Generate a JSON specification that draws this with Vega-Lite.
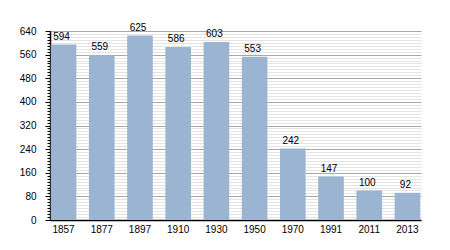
{
  "$schema": "https://vega.github.io/schema/vega-lite/v6.json",
  "width": 371,
  "height": 189,
  "autosize": "none",
  "padding": {"left": 50, "top": 31, "right": 29, "bottom": 30},
  "background": "white",
  "data": {"values": [
    {"year": "1857", "pop": 594},
    {"year": "1877", "pop": 559},
    {"year": "1897", "pop": 625},
    {"year": "1910", "pop": 586},
    {"year": "1930", "pop": 603},
    {"year": "1950", "pop": 553},
    {"year": "1970", "pop": 242},
    {"year": "1991", "pop": 147},
    {"year": "2011", "pop": 100},
    {"year": "2013", "pop": 92}
  ]},
  "config": {
    "font": "Liberation Sans",
    "view": {"stroke": null},
    "axis": {"labelFont": "Liberation Sans", "labelFontSize": 10, "labelColor": "#000"}
  },
  "encoding": {
    "x": {"field": "year", "type": "ordinal", "scale": {"paddingInner": 0.33, "paddingOuter": 0.02},
      "axis": {"title": null, "labelAngle": 0, "ticks": false, "domainColor": "#000", "domainWidth": 1.5, "labelPadding": 4}}
  },
  "layer": [
    {
      "mark": {"type": "bar", "opacity": 0},
      "encoding": {
        "y": {"field": "pop", "type": "quantitative", "scale": {"domain": [0, 640], "nice": false},
          "axis": {"title": null, "orient": "left", "values": [0,10,20,30,40,50,60,70,80,90,100,110,120,130,140,150,160,170,180,190,200,210,220,230,240,250,260,270,280,290,300,310,320,330,340,350,360,370,380,390,400,410,420,430,440,450,460,470,480,490,500,510,520,530,540,550,560,570,580,590,600,610,620,630,640],
            "labels": false, "domain": false, "grid": true, "gridColor": "#e4e4e4", "gridWidth": 1, "tickSize": 3, "tickColor": "#000"}}
      }
    },
    {
      "mark": {"type": "bar", "color": "#9ab4d2"},
      "encoding": {
        "y": {"field": "pop", "type": "quantitative", "scale": {"domain": [0, 640], "nice": false},
          "axis": {"title": null, "orient": "left", "values": [0,80,160,240,320,400,480,560,640], "grid": true, "gridColor": "#a8a8a8", "gridWidth": 1,
            "domainColor": "#000", "domainWidth": 1.5, "tickColor": "#000", "tickSize": 5, "labelPadding": 9}}
      }
    },
    {
      "mark": {"type": "text", "baseline": "alphabetic", "dy": -4.5, "dx": -2, "fontSize": 10, "color": "#000", "font": "Liberation Sans"},
      "encoding": {
        "y": {"field": "pop", "type": "quantitative", "axis": null},
        "text": {"field": "pop", "type": "quantitative"}
      }
    }
  ],
  "resolve": {"axis": {"y": "independent"}}
}
